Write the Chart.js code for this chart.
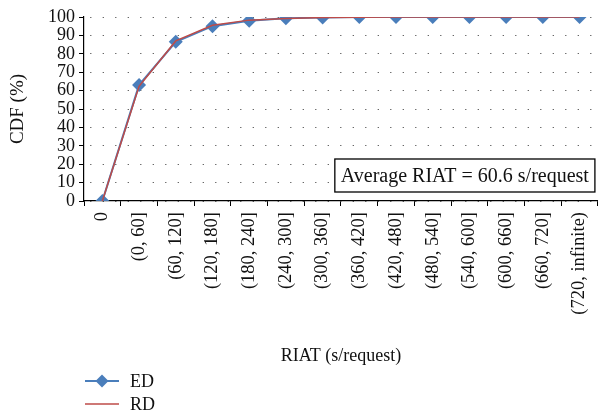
<!DOCTYPE html>
<html>
<head>
<meta charset="utf-8">
<script src="https://cdn.jsdelivr.net/npm/chart.js@4/dist/chart.umd.min.js"></script>
<style>
  html, body { margin: 0; padding: 0; background: #fff; }
  #wrap { width: 608px; height: 417px; position: relative; }
</style>
</head>
<body>
<div id="wrap"><canvas id="c" width="608" height="417"></canvas></div>
<script>
const categories = ["0", "(0, 60]", "(60, 120]", "(120, 180]", "(180, 240]", "(240, 300]", "(300, 360]",
  "(360, 420]", "(420, 480]", "(480, 540]", "(540, 600]", "(600, 660]", "(660, 720]", "(720, infinite)"];
const edValues = [0, 63, 86.5, 95, 98, 99.3, 99.7, 100, 100, 100, 100, 100, 100, 100];
const rdValues = [0, 62.3, 87, 95.5, 98.3, 99.2, 99.7, 99.9, 100, 100, 100, 100, 100, 100];
const seriesNames = ["ED", "RD"];
const annotationText = "Average RIAT = 60.6 s/request";
const xTitle = "RIAT (s/request)";
const yTitle = "CDF (%)";

const SERIF = "'Liberation Serif', 'DejaVu Serif', serif";
const BLUE = "#4A7EBB";
const RED = "#BE4B48";

const annotationPlugin = {
  id: "annot",
  afterDraw(chart) {
    const ctx = chart.ctx, a = chart.chartArea;
    ctx.save();
    ctx.font = "20px " + SERIF;
    const tw = ctx.measureText(annotationText).width;
    const right = a.right - 3, bottom = a.bottom - 9, h = 33;
    const w = tw + 12;
    const left = right - w, top = bottom - h;
    ctx.fillStyle = "#fff";
    ctx.fillRect(left, top, w, h);
    ctx.strokeStyle = "#000";
    ctx.lineWidth = 1.3;
    ctx.strokeRect(left, top, w, h);
    ctx.fillStyle = "#111";
    ctx.textBaseline = "middle";
    ctx.textAlign = "left";
    ctx.fillText(annotationText, left + 6, top + h / 2 + 1);
    ctx.restore();
  }
};

const legendPlugin = {
  id: "customLegend",
  afterDraw(chart) {
    const ctx = chart.ctx;
    ctx.save();
    ctx.font = "18px " + SERIF;
    ctx.textBaseline = "middle";
    ctx.textAlign = "left";
    const items = [
      { name: seriesNames[0], color: BLUE, marker: true, y: 381 },
      { name: seriesNames[1], color: RED, marker: false, y: 404 }
    ];
    items.forEach(it => {
      ctx.strokeStyle = it.color;
      ctx.lineWidth = it.marker ? 2 : 1.5;
      ctx.beginPath();
      ctx.moveTo(85, it.y);
      ctx.lineTo(119, it.y);
      ctx.stroke();
      if (it.marker) {
        const cx = 102, cy = it.y, r = 6.5;
        ctx.fillStyle = it.color;
        ctx.beginPath();
        ctx.moveTo(cx, cy - r); ctx.lineTo(cx + r, cy); ctx.lineTo(cx, cy + r); ctx.lineTo(cx - r, cy);
        ctx.closePath();
        ctx.fill();
      }
      ctx.fillStyle = "#111";
      ctx.fillText(it.name, 130, it.y + 1);
    });
    ctx.restore();
  }
};

new Chart(document.getElementById("c"), {
  type: "line",
  data: {
    labels: categories,
    datasets: [
      {
        label: seriesNames[0],
        data: edValues,
        borderColor: BLUE,
        backgroundColor: BLUE,
        borderWidth: 2,
        pointStyle: "rectRot",
        pointRadius: 7,
        pointBorderWidth: 0,
        pointBackgroundColor: BLUE,
        tension: 0,
        order: 1
      },
      {
        label: seriesNames[1],
        data: rdValues,
        borderColor: RED,
        backgroundColor: RED,
        borderWidth: 1.5,
        pointRadius: 0,
        tension: 0,
        order: 0
      }
    ]
  },
  options: {
    responsive: false,
    animation: false,
    events: [],
    layout: { padding: { left: 0, right: 0, top: 17, bottom: 50 } },
    plugins: {
      legend: { display: false },
      tooltip: { enabled: false }
    },
    scales: {
      x: {
        offset: true,
        grid: {
          offset: true,
          drawOnChartArea: false,
          drawTicks: true,
          tickLength: 5,
          tickColor: "#000",
          tickWidth: 1
        },
        border: { display: true, color: "#000", width: 1.2 },
        ticks: {
          minRotation: 90,
          maxRotation: 90,
          autoSkip: false,
          padding: 6,
          color: "#111",
          font: { family: SERIF, size: 18.5 }
        },
        title: {
          display: true,
          text: xTitle,
          color: "#111",
          font: { family: SERIF, size: 18 },
          padding: { top: 0, bottom: 0 }
        },
        afterFit(scale) { scale.height = 166; }
      },
      y: {
        min: 0,
        max: 100,
        ticks: {
          stepSize: 10,
          autoSkip: false,
          padding: 4,
          color: "#111",
          font: { family: SERIF, size: 18 }
        },
        grid: {
          drawOnChartArea: true,
          color: "#555",
          lineWidth: 1,
          tickLength: 5,
          tickColor: "#000",
          tickBorderDash: []
        },
        border: { display: true, color: "#000", width: 1.2, dash: [1.2, 11.3], dashOffset: -6 },
        title: {
          display: true,
          text: yTitle,
          color: "#111",
          font: { family: SERIF, size: 19 },
          padding: { top: 7, bottom: 0 }
        },
        afterFit(scale) { scale.width = 84; }
      }
    }
  },
  plugins: [annotationPlugin, legendPlugin]
});
</script>
</body>
</html>
